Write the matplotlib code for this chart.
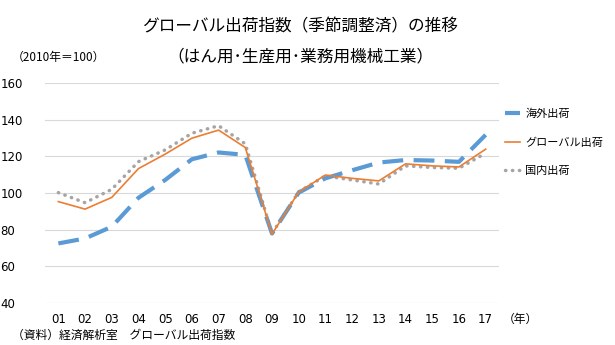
import matplotlib
matplotlib.use("Agg")
import matplotlib.pyplot as plt

plt.rcParams['font.family'] = ['Noto Sans CJK JP', 'DejaVu Sans']

years = ["01","02","03","04","05","06","07","08","09","10","11","12","13","14","15","16","17"]
overseas = [72.5, 75.2, 81.6, 97.4, 107.1, 118.4, 122.1, 120.8, 77.9, 100.2, 108.0, 112.4, 116.6, 118.0, 117.7, 117.0, 131.7]
global_ = [95.3, 91.2, 97.6, 113.3, 121.2, 129.9, 134.3, 124.8, 77.6, 100.5, 109.8, 108.0, 106.6, 115.9, 114.8, 114.2, 123.9]
domestic = [100.2, 94.7, 102.0, 117.1, 123.5, 132.6, 136.7, 126.8, 77.9, 100.7, 109.3, 107.1, 104.9, 114.8, 113.9, 113.5, 121.7]
labels = ["海外出荷", "グローバル出荷", "国内出荷"]
yticks = [40, 60, 80, 100, 120, 140, 160]

fig = plt.figure(figsize=(6.15, 3.45), dpi=100)
ax = fig.add_axes([45/615, 1-303/345, 454/615, 220/345])
x = list(range(len(years)))
l1, = ax.plot(x, overseas, color="#5B9BD5", lw=3.0, dashes=(5, 2.5), label=labels[0], zorder=3)
l2, = ax.plot(x, global_, color="#ED7D31", lw=1.2, label=labels[1], zorder=4)
l3, = ax.plot(x, domestic, color="#A5A5A5", lw=2.5, linestyle=(0, (0.1, 1.9)), dash_capstyle="round", label=labels[2], zorder=2)

ax.set_xlim(-0.5, len(years) - 0.5)
ax.set_ylim(40, 160)
ax.set_yticks(yticks)
ax.set_xticks(x)
ax.set_xticklabels(years)
ax.grid(axis="y", color="#D9D9D9", lw=0.8)
ax.set_axisbelow(True)
for s in ax.spines.values():
    s.set_visible(False)
ax.tick_params(length=0, labelsize=8.5, colors="#000000")
ax.tick_params(axis="x", pad=7)
for t in ax.get_xticklabels() + ax.get_yticklabels():
    t.set_fontfamily("DejaVu Sans")
for t in ax.get_yticklabels():
    t.set_horizontalalignment("left")
ax.tick_params(axis="y", pad=32)

leg = fig.legend(handles=[l1, l2, l3], loc="upper left", bbox_to_anchor=(501/615, 1-104/345),
                 frameon=False, fontsize=8, handlelength=1.3, handletextpad=0.5,
                 labelspacing=1.65, borderaxespad=0)

fig.text(300/615, 1-27/345, "グローバル出荷指数（季節調整済）の推移", ha="center", va="center", fontsize=12)
fig.text(300/615, 1-57/345, "（はん用･生産用･業務用機械工業）", ha="center", va="center", fontsize=12)
fig.text(12/615, 1-57/345, "（2010年＝100）", ha="left", va="center", fontsize=8.5)
fig.text(503/615, 1-319/345, "（年）", ha="left", va="center", fontsize=8.5)
fig.text(12/615, 1-335/345, "（資料）経済解析室　グローバル出荷指数", ha="left", va="center", fontsize=8.5)

fig.savefig("out.png", dpi=100)
